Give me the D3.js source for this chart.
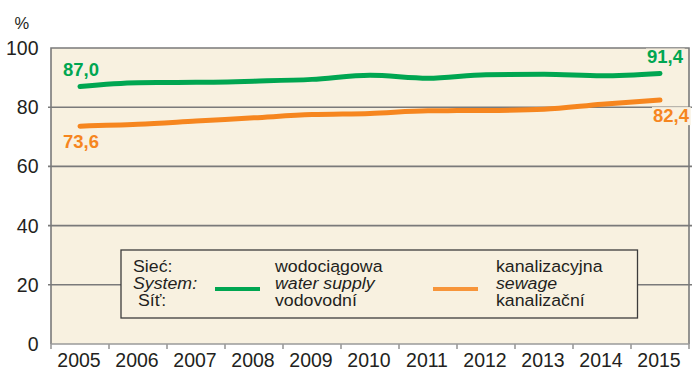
<!DOCTYPE html>
<html>
<head>
<meta charset="utf-8">
<script src="https://cdn.jsdelivr.net/npm/d3@7"></script>
<style>
  html, body { margin: 0; padding: 0; background: #ffffff; }
  svg { display: block; font-family: "Liberation Sans", Arial, sans-serif; }
</style>
</head>
<body>
<svg id="chart" width="692" height="370"></svg>
<script>
// ---- data ----
const years = ["2005","2006","2007","2008","2009","2010","2011","2012","2013","2014","2015"];
const waterSupply = [87.0, 88.3, 88.4, 88.8, 89.4, 90.8, 89.8, 91.0, 91.1, 90.6, 91.4];
const sewage      = [73.6, 74.2, 75.3, 76.4, 77.5, 77.9, 78.8, 78.9, 79.3, 81.0, 82.4];
const yTicks = [0, 20, 40, 60, 80, 100];
const endLabels = [
  { series: "water", idx: 0,  text: "87,0" },
  { series: "water", idx: 10, text: "91,4" },
  { series: "sewage", idx: 0, text: "73,6" },
  { series: "sewage", idx: 10, text: "82,4" }
];
const legendRowLabels = ["Sieć:", "System:", " Síť:"];
const legendWater = ["wodociągowa", "water supply", "vodovodní"];
const legendSewage = ["kanalizacyjna", "sewage", "kanalizační"];

// ---- styles ----
const GREEN = "#00a651";
const ORANGE = "#f6861f";
const CREAM = "#f8f1e0";
const GRID = "#7a7a7a";
const TEXT = "#231f20";

const svg = d3.select("#chart");
const L = 51, R = 689, T = 48, B = 344;

const x = d3.scaleBand().domain(years).range([L, R]).padding(0);
const cx = d => x(d) + x.bandwidth() / 2;
const y = d3.scaleLinear().domain([0, 100]).range([B, T]);

// plot background
svg.append("rect").attr("x", L).attr("y", T).attr("width", R - L).attr("height", B - T).attr("fill", CREAM);

// gridlines (extend slightly beyond plot on both sides)
svg.append("g").selectAll("line").data(yTicks.filter(v => v > 0 && v < 100)).join("line")
  .attr("x1", L - 3).attr("x2", R + 3)
  .attr("y1", d => y(d)).attr("y2", d => y(d))
  .attr("stroke", GRID).attr("stroke-width", 1.6);

// frame: top, left, right
svg.append("path")
  .attr("d", `M${L},${B} V${T} H${R} V${B}`)
  .attr("fill", "none").attr("stroke", GRID).attr("stroke-width", 1.6);

// x axis with ticks at band boundaries
const xAxisG = svg.append("g");
xAxisG.append("line").attr("x1", L).attr("x2", R).attr("y1", B).attr("y2", B)
  .attr("stroke", "#9a9a9a").attr("stroke-width", 1.6);
const boundaries = years.map(d => x(d)).concat([R]);
xAxisG.selectAll("line.tick").data(boundaries).join("line").attr("class", "tick")
  .attr("x1", d => d).attr("x2", d => d).attr("y1", B).attr("y2", B + 5)
  .attr("stroke", "#9a9a9a").attr("stroke-width", 1.6);
xAxisG.selectAll("text").data(years).join("text")
  .attr("x", d => cx(d) - 1).attr("y", 367)
  .attr("text-anchor", "middle").attr("font-size", 19.5).attr("fill", TEXT)
  .text(d => d);

// y labels
svg.append("g").selectAll("text").data(yTicks).join("text")
  .attr("x", 38.5).attr("y", d => y(d) + 7)
  .attr("text-anchor", "end").attr("font-size", 19.5).attr("fill", TEXT)
  .text(d => d);
svg.append("text").attr("x", 14.5).attr("y", 28.5).attr("font-size", 16.5).attr("fill", TEXT).text("%");

// legend box
const lg = svg.append("g");
lg.append("rect").attr("x", 121).attr("y", 250).attr("width", 516.5).attr("height", 68)
  .attr("fill", CREAM).attr("stroke", "#3c3c3c").attr("stroke-width", 1.3);
function legText(tx, ty, str, italic) {
  lg.append("text")
    .attr("transform", `translate(${tx},${ty}) scale(1.13,1)`)
    .attr("font-size", 15.7).attr("fill", TEXT)
    .attr("font-style", italic ? "italic" : "normal")
    .attr("xml:space", "preserve")
    .text(str);
}
const rowY = [271.8, 289.2, 306];
legendRowLabels.forEach((s, i) => legText(133, rowY[i], s, i === 1));
legendWater.forEach((s, i) => legText(275, rowY[i], s, i === 1));
legendSewage.forEach((s, i) => legText(496, rowY[i], s, i === 1));
lg.append("line").attr("x1", 215).attr("x2", 260).attr("y1", 289).attr("y2", 289)
  .attr("stroke", GREEN).attr("stroke-width", 4);
lg.append("line").attr("x1", 433).attr("x2", 478).attr("y1", 289).attr("y2", 289)
  .attr("stroke", "#f7953a").attr("stroke-width", 4);

// series lines
const line = d3.line().x((d, i) => cx(years[i])).y(d => y(d)).curve(d3.curveMonotoneX);
svg.append("path").datum(sewage).attr("d", line)
  .attr("fill", "none").attr("stroke", ORANGE).attr("stroke-width", 5).attr("stroke-linecap", "round");
svg.append("path").datum(waterSupply).attr("d", line)
  .attr("fill", "none").attr("stroke", GREEN).attr("stroke-width", 5).attr("stroke-linecap", "round");

// end labels with cream background
const labG = svg.append("g");
endLabels.forEach(l => {
  const vals = l.series === "water" ? waterSupply : sewage;
  const col = l.series === "water" ? GREEN : ORANGE;
  const px = cx(years[l.idx]) + (l.idx === 0 ? 1 : (l.series === "water" ? 5 : 11));
  const py = y(vals[l.idx]) + (l.series === "water" ? -10 : 22);
  const g = labG.append("g");
  const t = g.append("text").attr("x", px).attr("y", py).attr("text-anchor", "middle")
    .attr("font-size", 18.5).attr("font-weight", "bold").attr("fill", col).text(l.text);
  const bb = t.node().getBBox();
  g.insert("rect", "text").attr("x", bb.x - 1).attr("y", bb.y + 2).attr("width", bb.width + 2).attr("height", bb.height - 3)
    .attr("fill", CREAM);
});
</script>
</body>
</html>
